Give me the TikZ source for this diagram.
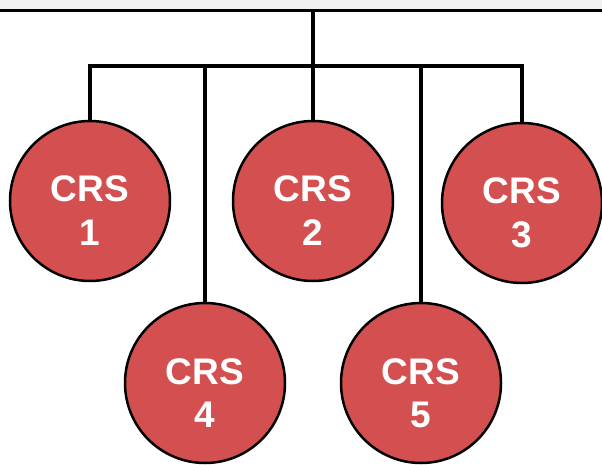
\documentclass[tikz,border=0pt]{standalone}
\usepackage{fontspec}
\setmainfont{Liberation Sans}
\usetikzlibrary{calc}
\definecolor{crsred}{RGB}{212,80,80}
\definecolor{bandgray}{RGB}{240,240,240}
\begin{document}
\begin{tikzpicture}[x=1pt,y=-1pt,
  crs/.style={circle,draw=black,line width=2.5pt,fill=crsred,minimum size=160pt,inner sep=0pt},
  lbl/.style={text=white,font=\bfseries\fontsize{37}{44}\selectfont,inner sep=0pt,anchor=base},
  conn/.style={line width=3.6pt}]
\useasboundingbox (0,0) rectangle (602,465);
\fill[bandgray] (0,0) rectangle (602,9);
\draw[line width=2.2pt] (0,10.5) -- (602,10.5);
\coordinate (top) at (313,10);
\coordinate (hub) at (313,66);
\node[crs] (c1) at (90,201) {};
\node[crs] (c2) at (313,201) {};
\node[crs] (c3) at (522,203) {};
\node[crs] (c4) at (205,383) {};
\node[crs] (c5) at (421,383) {};
\draw[conn] (top) -- (hub);
\draw[conn] (c1.north) |- (hub) -| (c3.north);
\draw[conn] (hub) -- (c2.north);
\draw[conn] (c4.north) -- (c4.north |- hub);
\draw[conn] (c5.north) -- (c5.north |- hub);
\foreach \c/\n in {c1/1,c2/2,c3/3,c4/4,c5/5}{
  \node[lbl] (\c a) at ($(\c)+(0,1)$) {CRS};
  \node[lbl] (\c b) at ($(\c)+(0,44)$) {\n};
}
\end{tikzpicture}
\end{document}
